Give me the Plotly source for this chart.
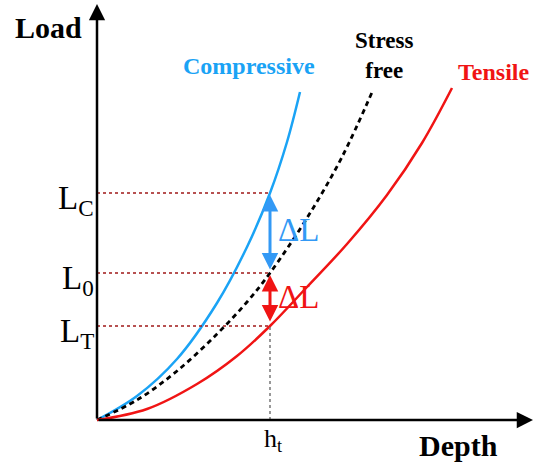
import plotly.graph_objects as go

# ---- data (depth / load in arbitrary units) ----
comp_depth = [0, 0.4, 0.8, 1.2, 1.5, 1.73, 1.9, 2.03]
comp_load = [0, 0.24, 0.61, 1.17, 1.73, 2.27, 2.78, 3.28]

free_depth = [0, 0.4, 0.8, 1.2, 1.5, 1.73, 2.1, 2.45, 2.76]
free_load = [0, 0.20, 0.49, 0.86, 1.18, 1.47, 2.02, 2.63, 3.30]

tens_depth = [0, 0.5, 1.0, 1.4, 1.73, 2.1, 2.5, 2.9, 3.25, 3.55]
tens_load = [0, 0.11, 0.36, 0.64, 0.94, 1.33, 1.76, 2.25, 2.77, 3.32]

h_t = 1.73
L_C = 2.27
L_0 = 1.47
L_T = 0.94

level_names = ["L<sub>C</sub>", "L<sub>0</sub>", "L<sub>T</sub>"]
level_values = [L_C, L_0, L_T]

BLUE = "#1aa3f5"
ARROW_BLUE = "#3399f5"
RED = "#f01414"
GUIDE = "#a01818"
SERIF = "Liberation Serif, Times New Roman, serif"

fig = go.Figure()

fig.add_trace(go.Scatter(x=comp_depth, y=comp_load, mode="lines",
                         line=dict(color=BLUE, width=2.5, shape="spline")))
fig.add_trace(go.Scatter(x=free_depth, y=free_load, mode="lines",
                         line=dict(color="black", width=2.8, dash="5px,4px", shape="spline")))
fig.add_trace(go.Scatter(x=tens_depth, y=tens_load, mode="lines",
                         line=dict(color=RED, width=2.5, shape="spline")))

# horizontal guides
for v in level_values:
    fig.add_trace(go.Scatter(x=[0, h_t], y=[v, v], mode="lines",
                             line=dict(color=GUIDE, width=1.5, dash="dot")))
# vertical guide
fig.add_trace(go.Scatter(x=[h_t, h_t], y=[0, L_T], mode="lines",
                         line=dict(color="#777777", width=1.5, dash="dot")))

ann = []
# axes with arrows
ann.append(dict(x=0, y=4.16, ax=0, ay=0, xref="x", yref="y", axref="x", ayref="y",
                showarrow=True, arrowhead=2, arrowsize=1.3, arrowwidth=2.5,
                arrowcolor="black", text=""))
ann.append(dict(x=4.36, y=0, ax=0, ay=0, xref="x", yref="y", axref="x", ayref="y",
                showarrow=True, arrowhead=2, arrowsize=1.3, arrowwidth=2.5,
                arrowcolor="black", text=""))
# delta L arrows
ann.append(dict(x=h_t, y=L_C - 0.02, ax=h_t, ay=L_0 + 0.02, xref="x", yref="y",
                axref="x", ayref="y", showarrow=True, arrowhead=2, arrowside="end+start",
                arrowsize=1.1, arrowwidth=3, arrowcolor=ARROW_BLUE, text=""))
ann.append(dict(x=h_t, y=L_0 - 0.02, ax=h_t, ay=L_T + 0.03, xref="x", yref="y",
                axref="x", ayref="y", showarrow=True, arrowhead=2, arrowside="end+start",
                arrowsize=1.1, arrowwidth=3, arrowcolor=RED, text=""))

# texts
ann.append(dict(x=2.01, y=1.90, text="ΔL", showarrow=False,
                font=dict(family=SERIF, size=33, color=ARROW_BLUE)))
ann.append(dict(x=2.01, y=1.23, text="ΔL", showarrow=False,
                font=dict(family=SERIF, size=33, color=RED)))
ann.append(dict(x=-0.49, y=3.93, text="<b>Load</b>", showarrow=False,
                font=dict(family=SERIF, size=30, color="black")))
ann.append(dict(x=3.61, y=-0.25, text="<b>Depth</b>", showarrow=False,
                font=dict(family=SERIF, size=30, color="black")))
ann.append(dict(x=1.52, y=3.54, text="<b>Compressive</b>", showarrow=False,
                font=dict(family=SERIF, size=24, color=BLUE)))
ann.append(dict(x=2.87, y=3.65, text="<b>Stress<br>free</b>", showarrow=False,
                font=dict(family=SERIF, size=23, color="black")))
ann.append(dict(x=3.96, y=3.48, text="<b>Tensile</b>", showarrow=False,
                font=dict(family=SERIF, size=24, color=RED)))
ann.append(dict(x=1.76, y=-0.20, text="h<sub>t</sub>", showarrow=False,
                font=dict(family=SERIF, size=26, color="black")))
for name, v in zip(level_names, level_values):
    ann.append(dict(x=-0.01, y=v - 0.07, text=name, showarrow=False, xanchor="right",
                    font=dict(family=SERIF, size=33, color="black")))

fig.update_layout(
    width=535, height=463,
    margin=dict(l=0, r=0, t=0, b=0),
    paper_bgcolor="white", plot_bgcolor="white",
    showlegend=False,
    xaxis=dict(range=[-0.97, 4.38], visible=False, fixedrange=True),
    yaxis=dict(range=[-0.43, 4.20], visible=False, fixedrange=True),
    annotations=ann,
)

fig.write_html("out.html")
